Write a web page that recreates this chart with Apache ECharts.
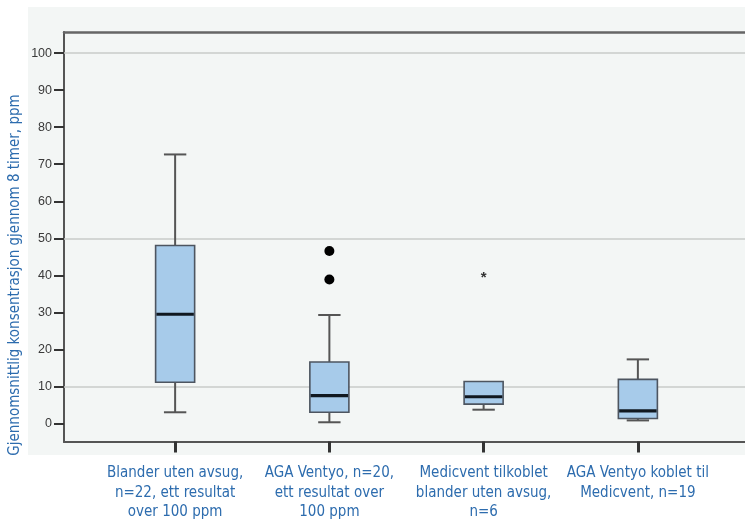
<!DOCTYPE html>
<html>
<head>
<meta charset="utf-8">
<script src="https://cdn.jsdelivr.net/npm/echarts@6/dist/echarts.min.js"></script>
<style>
html,body{margin:0;padding:0;background:#fff;}
#chart{width:745px;height:522px;}
</style>
</head>
<body>
<div id="chart"></div>
<script>
const categories = [
  'Blander uten avsug,\nn=22, ett resultat\nover 100 ppm',
  'AGA Ventyo, n=20,\nett resultat over\n100 ppm',
  'Medicvent tilkoblet\nblander uten avsug,\nn=6',
  'AGA Ventyo koblet til\nMedicvent, n=19'
];
const lowerWhisker = [2.9, 0.2, 3.6, 0.7];
const q1 = [11.0, 2.9, 5.1, 1.2];
const median = [29.4, 7.4, 7.1, 3.3];
const q3 = [48.0, 16.5, 11.2, 11.8];
const upperWhisker = [72.6, 29.2, 11.2, 17.2];
const outliers = [[1, 46.5], [1, 38.8]];
const extremes = [[2, 40.3]];
const yTicks = [0, 10, 20, 30, 40, 50, 60, 70, 80, 90, 100];
const refLines = [10, 50, 100];
const yTitle = 'Gjennomsnittlig konsentrasjon gjennom 8 timer, ppm';

const FONT = '"Liberation Sans Narrow", "DejaVu Sans Condensed", sans-serif';
const BLUE = '#2d6cae';
const Y_MIN = -5, Y_MAX = 105.7;

const chart = echarts.init(document.getElementById('chart'), null, {renderer: 'canvas'});

const boxData = categories.map((c, i) => [i, lowerWhisker[i], q1[i], median[i], q3[i], upperWhisker[i]]);

const option = {
  animation: false,
  backgroundColor: '#ffffff',
  graphic: [
    {type: 'rect', z: -100, shape: {x: 28, y: 7, width: 717, height: 448}, style: {fill: '#f3f6f5'}},
    {type: 'text', z: 10, x: 15, y: 275, rotation: Math.PI / 2,
     style: {text: yTitle, fill: BLUE, font: '15px ' + FONT, align: 'center', verticalAlign: 'middle'}}
  ],
  grid: [
    {left: 64, right: 0, top: 32, bottom: 80},
    {left: 98, right: 30, top: 32, bottom: 80}
  ],
  xAxis: [
    {gridIndex: 0, type: 'value', min: 0, max: 1, position: 'bottom',
     axisLine: {show: true, onZero: false, lineStyle: {color: '#555', width: 2}},
     axisTick: {show: false}, axisLabel: {show: false}, splitLine: {show: false}},
    {gridIndex: 0, type: 'value', min: 0, max: 1, position: 'top',
     axisLine: {show: true, onZero: false, lineStyle: {color: '#666', width: 2.5}},
     axisTick: {show: false}, axisLabel: {show: false}, splitLine: {show: false}},
    {gridIndex: 1, type: 'category', data: categories, position: 'bottom',
     axisLine: {show: false, onZero: false},
     axisTick: {show: true, alignWithLabel: true, length: 11, lineStyle: {color: '#333', width: 3}},
     axisLabel: {color: BLUE, fontFamily: FONT, fontSize: 15, lineHeight: 19.5, margin: 22, interval: 0},
     splitLine: {show: false}}
  ],
  yAxis: [
    {gridIndex: 0, type: 'value', min: Y_MIN, max: Y_MAX,
     axisLine: {show: true, onZero: false, lineStyle: {color: '#555', width: 2}},
     axisTick: {show: true, customValues: yTicks, length: 10, lineStyle: {color: '#333', width: 2}},
     axisLabel: {show: true, customValues: yTicks, color: '#3a3a3a', fontFamily: 'Liberation Sans, sans-serif', fontSize: 12.5, margin: 12},
     splitLine: {show: false}},
    {gridIndex: 1, type: 'value', min: Y_MIN, max: Y_MAX, show: false, splitLine: {show: false}}
  ],
  series: [
    {type: 'line', xAxisIndex: 0, yAxisIndex: 0, data: [], silent: true, z: 1,
     markLine: {silent: true, symbol: 'none', label: {show: false},
       lineStyle: {color: '#c8cbc9', width: 1.5, type: 'solid'},
       data: refLines.map(v => ({yAxis: v}))}},
    {type: 'custom', xAxisIndex: 2, yAxisIndex: 1, z: 5, data: boxData,
     renderItem: function (params, api) {
       const i = api.value(0);
       const lw = api.value(1), a = api.value(2), m = api.value(3), b = api.value(4), uw = api.value(5);
       const band = api.size([1, 0])[0];
       const bw = band * 0.253, cw = band * 0.145;
       const cx = api.coord([i, m])[0];
       const yLW = api.coord([i, lw])[1], yA = api.coord([i, a])[1], yM = api.coord([i, m])[1];
       const yB = api.coord([i, b])[1], yUW = api.coord([i, uw])[1];
       const ws = {stroke: '#555', lineWidth: 2};
       const children = [];
       if (uw > b) {
         children.push({type: 'line', shape: {x1: cx, y1: yB, x2: cx, y2: yUW}, style: ws});
         children.push({type: 'line', shape: {x1: cx - cw / 2, y1: yUW, x2: cx + cw / 2, y2: yUW}, style: ws});
       }
       if (lw < a) {
         children.push({type: 'line', shape: {x1: cx, y1: yA, x2: cx, y2: yLW}, style: ws});
         children.push({type: 'line', shape: {x1: cx - cw / 2, y1: yLW, x2: cx + cw / 2, y2: yLW}, style: ws});
       }
       children.push({type: 'rect', shape: {x: cx - bw / 2, y: yB, width: bw, height: yA - yB},
                      style: {fill: '#a7cbea', stroke: '#4d5560', lineWidth: 1.6}});
       children.push({type: 'line', shape: {x1: cx - bw / 2 + 0.8, y1: yM, x2: cx + bw / 2 - 0.8, y2: yM},
                      style: {stroke: '#101820', lineWidth: 3.2}});
       return {type: 'group', children: children};
     }},
    {type: 'scatter', xAxisIndex: 2, yAxisIndex: 1, z: 6, data: outliers,
     symbol: 'circle', symbolSize: 10, itemStyle: {color: '#000', opacity: 1}},
    {type: 'custom', xAxisIndex: 2, yAxisIndex: 1, z: 6, data: extremes,
     renderItem: function (params, api) {
       const pt = api.coord([api.value(0), api.value(1)]);
       return {type: 'text', style: {text: '*', x: pt[0], y: pt[1] + 4, fill: '#333',
               font: 'bold 15px Liberation Sans, sans-serif', align: 'center', verticalAlign: 'middle'}};
     }}
  ]
};
chart.setOption(option);
</script>
</body>
</html>
